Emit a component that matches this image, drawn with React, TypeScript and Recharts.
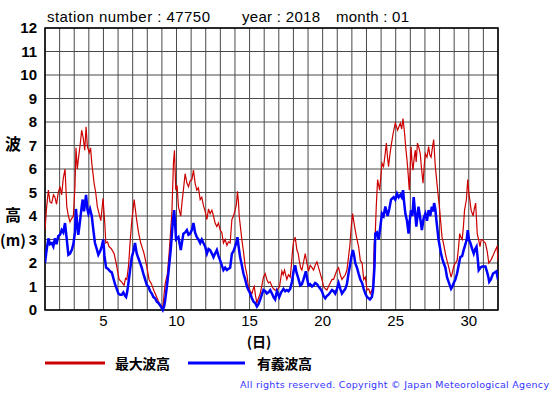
import { CartesianGrid, Line, LineChart, ReferenceArea, XAxis, YAxis } from "recharts"

// max wave height (最大波高), day of month -> metres
const redDays = [
  1.0, 1.1, 1.23, 1.34, 1.46, 1.58, 1.68, 1.79, 1.91, 2.03, 2.14, 2.25, 2.37, 2.49, 2.6, 2.71, 2.83, 2.94,
  3.05, 3.12, 3.21, 3.28, 3.4, 3.51, 3.62, 3.72, 3.81, 3.9, 4.03, 4.12, 4.2, 4.36, 4.47, 4.58, 4.7, 4.82,
  4.9, 4.97, 5.09, 5.16, 5.28, 5.38, 5.55, 5.73, 5.9, 6.07, 6.24, 6.41, 6.51, 6.6, 6.72, 6.82, 6.94, 7.03,
  7.1, 7.2, 7.28, 7.4, 7.55, 7.68, 7.78, 7.95, 8.12, 8.29, 8.47, 8.64, 8.81, 8.91, 9.05, 9.22, 9.38, 9.51,
  9.68, 9.79, 9.86, 9.95, 10.04, 10.13, 10.29, 10.38, 10.47, 10.59, 10.71, 10.82, 10.93, 11.05, 11.16,
  11.27, 11.39, 11.5, 11.62, 11.73, 11.84, 11.96, 12.08, 12.19, 12.3, 12.42, 12.53, 12.64, 12.76, 12.87,
  12.99, 13.1, 13.21, 13.33, 13.45, 13.55, 13.67, 13.79, 13.9, 14.01, 14.1, 14.17, 14.24, 14.29, 14.47,
  14.58, 14.7, 14.82, 14.92, 15.04, 15.16, 15.25, 15.32, 15.41, 15.5, 15.61, 15.73, 15.86, 15.95, 16.07,
  16.18, 16.29, 16.41, 16.53, 16.64, 16.75, 16.87, 17.05, 17.21, 17.3, 17.39, 17.55, 17.66, 17.78, 17.86,
  17.94, 18.01, 18.12, 18.24, 18.33, 18.4, 18.49, 18.58, 18.68, 18.81, 18.92, 19.03, 19.15, 19.27, 19.38,
  19.49, 19.61, 19.72, 19.84, 19.95, 20.06, 20.18, 20.29, 20.4, 20.52, 20.64, 20.75, 20.86, 20.98, 21.09,
  21.21, 21.32, 21.43, 21.55, 21.66, 21.77, 21.87, 21.96, 22.05, 22.15, 22.23, 22.35, 22.46, 22.58, 22.7,
  22.81, 22.92, 23.04, 23.15, 23.26, 23.37, 23.45, 23.53, 23.6, 23.67, 23.76, 23.9, 24.06, 24.17, 24.27,
  24.36, 24.44, 24.51, 24.6, 24.68, 24.82, 24.97, 25.13, 25.22, 25.32, 25.41, 25.5, 25.61, 25.69, 25.77,
  25.85, 25.93, 26.05, 26.12, 26.18, 26.27, 26.34, 26.4, 26.49, 26.59, 26.68, 26.77, 26.87, 26.96, 27.03,
  27.14, 27.25, 27.33, 27.42, 27.51, 27.6, 27.71, 27.79, 27.87, 28.01, 28.17, 28.28, 28.4, 28.51, 28.62,
  28.79, 28.88, 28.97, 29.08, 29.2, 29.29, 29.38, 29.46, 29.55, 29.64, 29.71, 29.78, 29.84, 29.89, 29.93,
  30.0, 30.07, 30.16, 30.3, 30.38, 30.47, 30.58, 30.67, 30.77, 30.85, 30.92, 31.03, 31.14, 31.26, 31.37,
  31.49, 31.61, 31.72, 31.82, 31.94, 32.0,
]
const redValues = [
  3.4, 4.3, 5.1, 4.6, 4.55, 4.9, 4.8, 4.5, 5.0, 5.25, 4.9, 5.6, 6.0, 4.4, 4.0, 3.75, 3.9, 4.0,
  5.25, 6.9, 6.0, 6.4, 7.0, 7.65, 7.3, 6.8, 7.8, 6.95, 6.7, 6.9, 6.25, 5.4, 5.0, 4.4, 4.1, 3.8,
  4.3, 4.75, 3.7, 2.85, 2.9, 2.7, 2.6, 2.4, 1.9, 1.3, 1.2, 1.05, 1.35, 1.3, 1.9, 2.85, 3.8, 4.3,
  4.7, 4.2, 3.8, 3.3, 2.85, 2.6, 2.4, 1.9, 1.3, 1.1, 0.8, 0.55, 0.3, 0.2, 0.05, 1.1, 1.55, 2.55,
  4.1, 6.25, 6.8, 5.1, 5.3, 4.4, 4.0, 4.6, 5.1, 5.8, 5.4, 5.25, 5.5, 5.55, 5.95,
  5.4, 5.1, 5.2, 4.7, 4.8, 4.45, 4.2, 3.85, 4.3, 4.1, 4.25, 4.0, 3.7, 3.55, 3.7,
  3.4, 3.3, 2.85, 3.0, 2.75, 2.9, 2.85, 3.85, 4.0, 4.25, 4.5, 5.05, 4.6, 4.0, 3.0,
  2.5, 1.85, 1.5, 1.0, 0.8, 0.7, 0.9, 1.0, 0.6, 0.3, 0.5, 0.7, 1.1, 1.4, 1.55,
  1.3, 1.15, 1.2, 1.0, 0.9, 0.85, 0.85, 1.0, 1.65, 1.5, 1.7, 1.3, 1.5, 1.4, 1.9,
  2.55, 2.9, 3.1, 2.55, 2.4, 2.1, 1.8, 1.7, 2.0, 2.4, 2.0, 1.65, 1.9, 1.8, 1.7,
  1.9, 2.05, 1.8, 1.55, 1.3, 1.0, 0.9, 0.85, 1.0, 1.15, 1.3, 1.3, 1.5, 1.7, 1.8,
  1.5, 1.3, 1.4, 1.5, 1.7, 2.25, 2.8, 3.55, 4.1, 3.7, 3.4, 3.0, 2.7, 2.1, 2.0,
  1.3, 1.4, 0.85, 0.9, 0.7, 0.85, 1.0, 2.85, 3.25, 4.4, 5.55, 5.1, 6.25, 6.1, 6.6,
  7.1, 6.5, 6.1, 6.6, 6.95, 7.5, 7.95, 7.65, 7.8, 7.95, 7.7, 8.15, 7.5, 6.9, 6.4,
  5.8, 5.1, 6.95, 6.3, 5.95, 6.5, 6.8, 6.3, 7.1, 6.9, 6.65, 6.0, 5.4, 6.2, 6.65,
  6.5, 6.95, 6.6, 6.5, 6.9, 7.25, 6.1, 5.6, 5.1, 4.25, 3.1, 2.8, 2.4, 2.1, 1.85,
  1.4, 1.6, 1.85, 2.0, 2.1, 2.6, 3.25, 3.1, 3.0, 3.6, 4.25, 4.5, 4.7, 5.2, 5.55,
  5.0, 4.7, 4.25, 4.0, 4.3, 4.55, 3.25, 3.0, 2.7, 3.0, 3.0, 2.9, 2.85, 2.5, 2.0,
  2.1, 2.25, 2.4, 2.55, 2.7, 2.1,
]

// significant wave height (有義波高)
const blueDays = [
  1.0, 1.1, 1.23, 1.34, 1.46, 1.57, 1.68, 1.79, 1.91, 2.03, 2.14, 2.25, 2.37, 2.49, 2.6, 2.71, 2.83, 2.94,
  3.05, 3.12, 3.21, 3.28, 3.4, 3.51, 3.58, 3.67, 3.81, 3.9, 3.97, 4.08, 4.2, 4.31, 4.42, 4.54, 4.65, 4.77,
  4.88, 4.99, 5.07, 5.18, 5.32, 5.45, 5.57, 5.68, 5.79, 5.91, 6.02, 6.14, 6.25, 6.36, 6.48, 6.55, 6.62,
  6.71, 6.82, 6.94, 7.05, 7.16, 7.28, 7.39, 7.51, 7.62, 7.73, 7.85, 7.97, 8.08, 8.19, 8.31, 8.42, 8.53,
  8.65, 8.76, 8.88, 8.97, 9.06, 9.15, 9.22, 9.34, 9.45, 9.61, 9.75, 9.84, 9.9, 9.97, 10.13, 10.29, 10.38,
  10.47, 10.59, 10.71, 10.82, 10.93, 11.05, 11.16, 11.27, 11.39, 11.5, 11.62, 11.73, 11.84, 11.96, 12.08,
  12.19, 12.3, 12.42, 12.53, 12.64, 12.76, 12.87, 12.99, 13.1, 13.21, 13.33, 13.45, 13.55, 13.67, 13.79,
  13.9, 14.01, 14.1, 14.17, 14.25, 14.35, 14.47, 14.58, 14.7, 14.82, 14.92, 15.04, 15.16, 15.27, 15.38,
  15.5, 15.61, 15.73, 15.86, 15.95, 16.07, 16.18, 16.29, 16.41, 16.53, 16.64, 16.75, 16.87, 17.03, 17.16,
  17.32, 17.44, 17.55, 17.66, 17.78, 17.9, 18.01, 18.12, 18.21, 18.31, 18.4, 18.47, 18.58, 18.69, 18.85,
  18.95, 19.03, 19.15, 19.27, 19.38, 19.49, 19.61, 19.72, 19.84, 19.95, 20.06, 20.18, 20.29, 20.4, 20.52,
  20.64, 20.75, 20.86, 20.98, 21.09, 21.21, 21.32, 21.43, 21.55, 21.66, 21.77, 21.87, 21.96, 22.07, 22.16,
  22.23, 22.35, 22.46, 22.58, 22.7, 22.81, 22.92, 23.04, 23.15, 23.24, 23.37, 23.45, 23.55, 23.6, 23.71,
  23.83, 23.95, 24.06, 24.17, 24.29, 24.45, 24.56, 24.68, 24.86, 24.97, 25.09, 25.2, 25.32, 25.41, 25.5,
  25.59, 25.66, 25.77, 25.88, 25.96, 26.05, 26.14, 26.23, 26.32, 26.41, 26.49, 26.56, 26.68, 26.79, 26.91,
  27.03, 27.14, 27.25, 27.36, 27.47, 27.56, 27.63, 27.71, 27.78, 27.86, 27.93, 28.1, 28.18, 28.28, 28.4,
  28.51, 28.62, 28.79, 28.88, 28.97, 29.08, 29.2, 29.31, 29.42, 29.55, 29.65, 29.77, 29.86, 29.93, 30.01,
  30.11, 30.23, 30.34, 30.44, 30.53, 30.61, 30.68, 30.79, 30.92, 31.03, 31.14, 31.26, 31.34, 31.4, 31.51,
  31.66, 31.77, 31.89, 32.0,
]
const blueValues = [
  2.0, 2.5, 3.05, 2.8, 2.85, 2.7, 3.05, 2.8, 3.15, 3.2, 3.4, 3.3, 3.7, 3.0, 2.35, 2.4, 2.55, 2.8,
  3.3, 4.3, 3.6, 3.2, 3.8, 4.4, 4.7, 4.2, 4.9, 4.3, 4.1, 4.3, 4.0, 3.4, 2.85, 2.6, 2.35, 2.5,
  2.7, 3.0, 2.3, 1.8, 1.75, 1.65, 1.6, 1.35, 1.1, 0.9, 0.7, 0.65, 0.65, 0.75, 0.6, 0.55, 0.75,
  1.15, 1.7, 2.25, 2.5, 2.85, 2.4, 2.2, 2.0, 1.8, 1.55, 1.3, 1.05, 1.0, 0.8, 0.7, 0.55, 0.5,
  0.35, 0.3, 0.2, 0.1, 0.0, 0.15, 0.4, 1.0, 1.6, 2.6, 3.8, 4.25, 3.7, 3.0, 3.1, 2.55, 2.9,
  3.25, 3.3, 3.4, 3.2, 3.25, 3.4, 3.7, 3.3, 3.1, 3.0, 2.85, 3.0, 2.85, 2.7, 2.4,
  2.6, 2.55, 2.4, 2.25, 2.4, 2.55, 2.3, 2.1, 1.9, 1.7, 1.8, 1.7, 1.75, 1.8, 2.4,
  2.5, 2.7, 2.9, 3.1, 2.7, 2.25, 1.9, 1.55, 1.3, 1.0, 0.85, 0.7, 0.5, 0.35, 0.3,
  0.15, 0.25, 0.45, 0.7, 0.85, 0.8, 0.7, 0.75, 0.85, 0.7, 0.55, 0.45, 0.8, 0.55, 0.75,
  0.9, 0.8, 0.85, 0.8, 0.9, 1.2, 1.65, 1.9, 1.6, 1.4, 1.2, 1.05, 1.1, 1.3, 1.65,
  1.3, 1.05, 1.1, 1.0, 1.05, 1.15, 1.1, 1.0, 0.9, 0.8, 0.6, 0.5, 0.6, 0.65, 0.75,
  0.85, 0.8, 0.7, 0.9, 1.15, 0.9, 0.7, 0.8, 0.9, 1.1, 1.55, 1.9, 2.25, 2.55, 2.3,
  2.0, 1.8, 1.55, 1.3, 1.15, 0.9, 0.7, 0.55, 0.5, 0.45, 0.55, 0.85, 1.85, 3.25, 3.3,
  3.0, 3.55, 4.1, 4.0, 4.4, 4.0, 4.3, 4.7, 4.8, 4.7, 4.95, 4.8, 4.9, 4.8, 5.1,
  4.5, 4.1, 3.8, 3.25, 3.8, 4.25, 4.0, 4.8, 4.2, 3.55, 4.0, 4.4, 3.9, 3.4, 3.9,
  4.1, 3.8, 4.25, 4.0, 4.4, 4.2, 4.55, 4.3, 3.85, 3.4, 3.0, 2.4, 2.2, 2.0, 1.8,
  1.4, 1.2, 0.9, 1.0, 1.15, 1.3, 1.55, 1.9, 2.25, 2.3, 2.55, 2.8, 3.0, 3.4, 3.0,
  2.85, 2.6, 2.4, 2.6, 2.7, 2.2, 1.7, 1.8, 1.85, 1.85, 1.85, 1.6, 1.4, 1.2, 1.3,
  1.55, 1.6, 1.65, 1.3,
]

const dayTicks = Array.from({ length: 32 }, (_, i) => i + 1)
const heightTicks = [0, 1, 2, 3, 4, 5, 6, 7, 8, 9, 10, 11, 12]

const latin = "'Liberation Sans', Arial, sans-serif"
const cjk = "'Noto Sans CJK JP', sans-serif"

export default function App() {
  const redData = redDays.map((d, i) => ({ day: d, value: redValues[i] }))
  const blueData = blueDays.map((d, i) => ({ day: d, value: blueValues[i] }))

  return (
    <div style={{ position: "absolute", left: 0, top: 0, width: 555, height: 395, background: "#fff" }}>
      <LineChart width={555} height={395} margin={{ top: 28, right: 57, left: 0, bottom: 60 }}>
        <CartesianGrid stroke="#4a4a4a" strokeWidth={1} />
        <XAxis
          type="number"
          dataKey="day"
          domain={[1, 32]}
          ticks={dayTicks}
          interval={0}
          tickLine={false}
          axisLine={false}
          tickSize={3}
          height={25}
          tickFormatter={(v: number) => (v % 5 === 0 ? String(v) : "")}
          tick={{ fill: "#000", fontSize: 15, fontFamily: latin }}
          allowDataOverflow
        />
        <YAxis
          type="number"
          domain={[0, 12]}
          ticks={heightTicks}
          interval={0}
          tickLine={false}
          axisLine={false}
          width={45}
          tick={{ fill: "#000", fontSize: 15, fontWeight: "bold", fontFamily: latin }}
        />
        <ReferenceArea x1={1} x2={32} y1={0} y2={12} fill="none" stroke="#000" strokeWidth={1.5} />
        <Line
          data={redData}
          dataKey="value"
          type="linear"
          stroke="#cc0000"
          strokeWidth={1.2}
          dot={false}
          activeDot={false}
          isAnimationActive={false}
        />
        <Line
          data={blueData}
          dataKey="value"
          type="linear"
          stroke="#0000ff"
          strokeWidth={2.5}
          dot={false}
          activeDot={false}
          isAnimationActive={false}
        />
      </LineChart>
      <svg width={555} height={395} style={{ position: "absolute", left: 0, top: 0, pointerEvents: "none" }}>
        <text x={47} y={22} fontSize={15} fontFamily={latin} fill="#000" textLength={163} lengthAdjust="spacing">
          station number : 47750
        </text>
        <text x={242} y={22} fontSize={15} fontFamily={latin} fill="#000" textLength={78} lengthAdjust="spacing">
          year : 2018
        </text>
        <text x={336} y={22} fontSize={15} fontFamily={latin} fill="#000" textLength={73} lengthAdjust="spacing">
          month : 01
        </text>
        <text x={13} y={150} fontSize={16} fontWeight="bold" fontFamily={cjk} textAnchor="middle" fill="#000">
          波
        </text>
        <text x={13} y={221} fontSize={16} fontWeight="bold" fontFamily={cjk} textAnchor="middle" fill="#000">
          高
        </text>
        <text x={13} y={246} fontSize={15} fontWeight="bold" fontFamily={cjk} textAnchor="middle" fill="#000">
          (m)
        </text>
        <text x={259} y={347} fontSize={14} fontWeight="bold" fontFamily={cjk} textAnchor="middle" fill="#000">
          (日)
        </text>
        <line x1={45} y1={363} x2={105} y2={363} stroke="#cc0000" strokeWidth={3} />
        <text x={115} y={369} fontSize={14} fontWeight="bold" fontFamily={cjk} fill="#000" textLength={55} lengthAdjust="spacing">
          最大波高
        </text>
        <line x1={188} y1={363} x2={245} y2={363} stroke="#0000ff" strokeWidth={3} />
        <text x={257} y={369} fontSize={14} fontWeight="bold" fontFamily={cjk} fill="#000" textLength={55} lengthAdjust="spacing">
          有義波高
        </text>
        <text x={240} y={388} fontSize={9.5} fontFamily="'DejaVu Sans', sans-serif" fill="#3333ff" textLength={309} lengthAdjust="spacing">
          All rights reserved. Copyright © Japan Meteorological Agency
        </text>
      </svg>
    </div>
  )
}
